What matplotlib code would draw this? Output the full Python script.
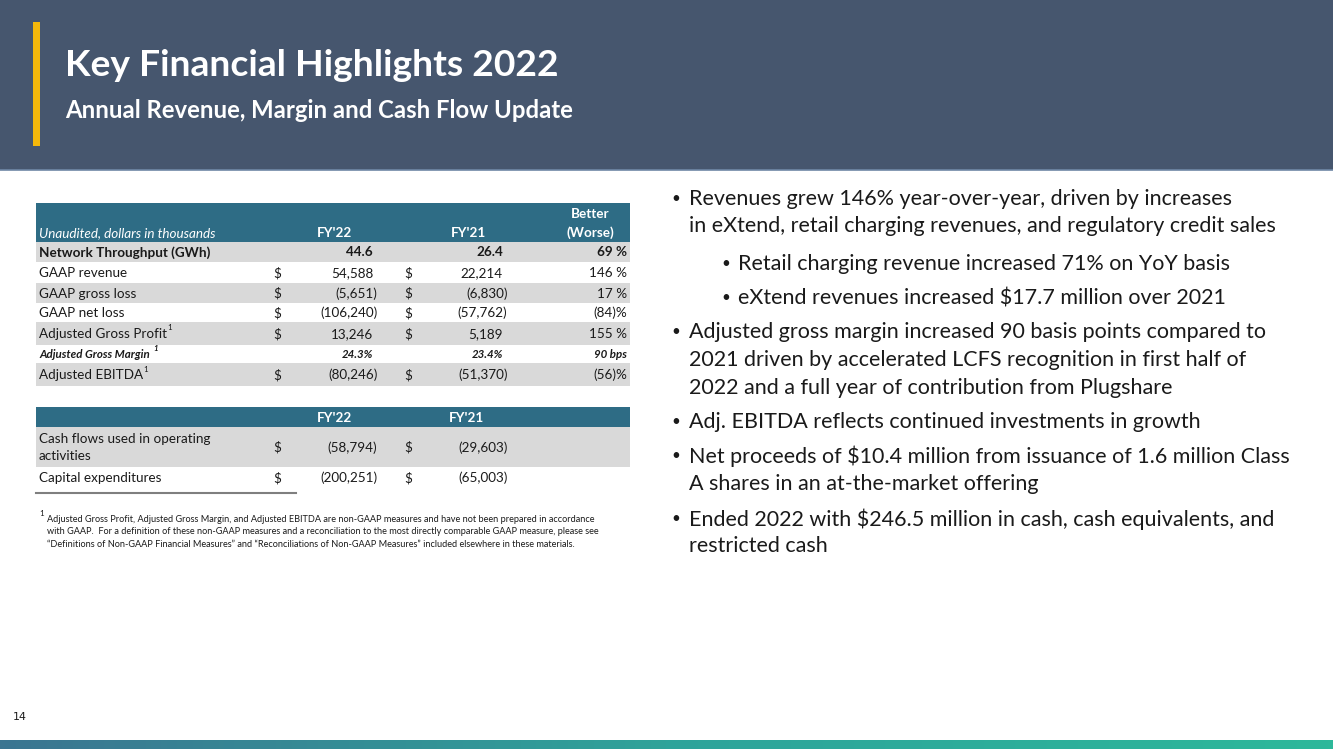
import matplotlib
matplotlib.use("Agg")
import matplotlib.pyplot as plt
import numpy as np
from matplotlib.patches import Rectangle
from matplotlib.colors import LinearSegmentedColormap

# ---------------- data ----------------
title = "Key Financial Highlights 2022"
subtitle = "Annual Revenue, Margin and Cash Flow Update"

table1_header = ["Unaudited, dollars in thousands", "FY'22", "FY'21", "Better\n(Worse)"]
row_labels = ["Network Throughput (GWh)", "GAAP revenue", "GAAP gross loss", "GAAP net loss",
              "Adjusted Gross Profit", "Adjusted Gross Margin", "Adjusted EBITDA"]
row_kind = ["gwh", "usd", "usd", "usd", "usd", "pct", "usd"]
row_note = [False, False, False, False, True, True, True]
fy22_values = [44.6, 54588, -5651, -106240, 13246, 24.3, -80246]
fy21_values = [26.4, 22214, -6830, -57762, 5189, 23.4, -51370]
change_labels = ["69 %", "146 %", "17 %", "(84)%", "155 %", "90 bps", "(56)%"]

table2_header = ["FY'22", "FY'21"]
cash_labels = ["Cash flows used in operating\nactivities", "Capital expenditures"]
cash_fy22 = [-58794, -200251]
cash_fy21 = [-29603, -65003]

footnote = ("Adjusted Gross Profit, Adjusted Gross Margin, and Adjusted EBITDA are non-GAAP measures and have not been prepared in accordance\n"
            "with GAAP.  For a definition of these non-GAAP measures and a reconciliation to the most directly comparable GAAP measure, please see\n"
            "\u201cDefinitions of Non-GAAP Financial Measures\u201d and \u201cReconciliations of Non-GAAP Measures\u201d included elsewhere in these materials.")

bullets = [
    (0, "Revenues grew 146% year-over-year, driven by increases\nin eXtend, retail charging revenues, and regulatory credit sales"),
    (1, "Retail charging revenue increased 71% on YoY basis"),
    (1, "eXtend revenues increased $17.7 million over 2021"),
    (0, "Adjusted gross margin increased 90 basis points compared to\n2021 driven by accelerated LCFS recognition in first half of\n2022 and a full year of contribution from Plugshare"),
    (0, "Adj. EBITDA reflects continued investments in growth"),
    (0, "Net proceeds of $10.4 million from issuance of 1.6 million Class\nA shares in an at-the-market offering"),
    (0, "Ended 2022 with $246.5 million in cash, cash equivalents, and\nrestricted cash"),
]
page_number = "14"

# ---------------- style ----------------
W, H = 1333, 749
FONT = ["Lato", "DejaVu Sans"]
TFONT = ["Lato", "DejaVu Sans"]
plt.rcParams["font.family"] = FONT
HEADER_BG = "#46566e"
TEAL = "#2e6c85"
GRAY = "#d9d9d9"
TEXT = "#1a1a1a"

fig = plt.figure(figsize=(W / 100, H / 100), dpi=100)
ax = fig.add_axes([0, 0, 1, 1])
ax.set_xlim(0, W)
ax.set_ylim(H, 0)
ax.axis("off")

def pt(px):
    return px * 0.72

# header band
ax.add_patch(Rectangle((0, 0), W, 170, color=HEADER_BG, lw=0))
ax.plot([0, W], [170, 170], color="#6f88a6", lw=1.2)
ax.add_patch(Rectangle((33, 22), 7, 124, color="#f5b80b", lw=0))
ax.text(65, 65, title, fontsize=pt(37.3), fontweight="bold", color="white", va="center", ha="left")
ax.text(65, 111, subtitle, fontsize=pt(23.9), fontweight="bold", color="white", va="center", ha="left")

# bottom gradient bar
grad = np.linspace(0, 1, 256)[None, :]
cmap = LinearSegmentedColormap.from_list("g", ["#3b7591", "#2fa39a", "#2db89a"])
ax.imshow(grad, extent=(0, W, 749, 740), aspect="auto", cmap=cmap, zorder=1)
ax.set_xlim(0, W)
ax.set_ylim(H, 0)
ax.text(13, 717, page_number, fontsize=pt(11), color=TEXT, va="center", ha="left", family=["Liberation Sans Narrow", "DejaVu Sans"])

# ---------------- table 1 ----------------
TX0, TX1 = 36, 630
LBL_X = 39
D1_X, V1_X, D2_X, V2_X, C_X = 277, 373, 408, 503, 627
PAREN = 4.5
FS = pt(13.5)

ax.add_patch(Rectangle((TX0, 203), TX1 - TX0, 39, color=TEAL, lw=0))
ax.text(LBL_X, 233, table1_header[0], fontsize=FS, style="italic", color="white", va="center", family=TFONT)
ax.text(334, 233, table1_header[1], fontsize=FS, fontweight="bold", color="white", va="center", ha="center", family=TFONT)
ax.text(469, 233, table1_header[2], fontsize=FS, fontweight="bold", color="white", va="center", ha="center", family=TFONT)
hb = table1_header[3].split("\n")
ax.text(590, 214, hb[0], fontsize=FS, fontweight="bold", color="white", va="center", ha="center", family=TFONT)
ax.text(590, 233, hb[1], fontsize=FS, fontweight="bold", color="white", va="center", ha="center", family=TFONT)

bounds = [242, 262, 283, 303, 322, 345, 363, 386]

def fmt(v, kind):
    if kind == "gwh":
        return f"{v:.1f}"
    if kind == "pct":
        return f"{v:.1f}%"
    s = f"{abs(v):,.0f}"
    return f"({s})" if v < 0 else s

fig.canvas.draw()
renderer = fig.canvas.get_renderer()
inv = ax.transData.inverted()

for i, lab in enumerate(row_labels):
    y0, y1 = bounds[i], bounds[i + 1]
    yc = (y0 + y1) / 2 + 0.5
    if i % 2 == 0:
        ax.add_patch(Rectangle((TX0, y0), TX1 - TX0, y1 - y0, color=GRAY, lw=0))
    kind = row_kind[i]
    bold = kind in ("gwh", "pct")
    small = kind == "pct"
    fs = pt(11.5) if small else FS
    wt = "bold" if bold else "normal"
    st = "italic" if small else "normal"
    t = ax.text(LBL_X, yc, lab, fontsize=fs, fontweight=wt, style=st, color=TEXT, va="center", family=TFONT)
    if row_note[i]:
        bb = t.get_window_extent(renderer=renderer)
        xend = inv.transform((bb.x1, bb.y0))[0] + (3 if small else 0.5)
        ax.text(xend, yc - 6, "1", fontsize=pt(8), fontweight=wt, style=st, color=TEXT, va="center", family=TFONT)
    if kind == "usd":
        ax.text(D1_X, yc, "$", fontsize=FS, color=TEXT, va="center", ha="center", family=TFONT)
        ax.text(D2_X, yc, "$", fontsize=FS, color=TEXT, va="center", ha="center", family=TFONT)
    for v, x in ((fy22_values[i], V1_X), (fy21_values[i], V2_X)):
        xx = x + (PAREN if (kind == "usd" and v < 0) else 0)
        ax.text(xx, yc, fmt(v, kind), fontsize=fs, fontweight=wt, style=st, color=TEXT, va="center", ha="right", family=TFONT)
    ax.text(C_X, yc, change_labels[i], fontsize=fs, fontweight=wt, style=st, color=TEXT, va="center", ha="right", family=TFONT)

# ---------------- table 2 ----------------
ax.add_patch(Rectangle((TX0, 407), TX1 - TX0, 20, color=TEAL, lw=0))
ax.text(334, 417.5, table2_header[0], fontsize=FS, fontweight="bold", color="white", va="center", ha="center", family=TFONT)
ax.text(466, 417.5, table2_header[1], fontsize=FS, fontweight="bold", color="white", va="center", ha="center", family=TFONT)
b2 = [427, 467, 488]
for i, lab in enumerate(cash_labels):
    y0, y1 = b2[i], b2[i + 1]
    yc = (y0 + y1) / 2 + 0.5
    if i % 2 == 0:
        ax.add_patch(Rectangle((TX0, y0), TX1 - TX0, y1 - y0, color=GRAY, lw=0))
    ax.text(LBL_X, yc, lab, fontsize=FS, color=TEXT, va="center", ha="left", family=TFONT, linespacing=1.45)
    ax.text(D1_X, yc, "$", fontsize=FS, color=TEXT, va="center", ha="center", family=TFONT)
    ax.text(D2_X, yc, "$", fontsize=FS, color=TEXT, va="center", ha="center", family=TFONT)
    ax.text(V1_X + PAREN, yc, fmt(cash_fy22[i], "usd"), fontsize=FS, color=TEXT, va="center", ha="right", family=TFONT)
    ax.text(V2_X + PAREN, yc, fmt(cash_fy21[i], "usd"), fontsize=FS, color=TEXT, va="center", ha="right", family=TFONT)
ax.plot([36, 296], [493, 493], color="#7f7f7f", lw=1.5)

# footnote
ax.text(39, 514, "1", fontsize=pt(8), color=TEXT, va="center", family=TFONT)
ax.text(47, 532, footnote, fontsize=pt(9.15), color=TEXT, va="center", ha="left", family=TFONT, linespacing=1.45)

# ---------------- bullets ----------------
BFS = pt(21.5)
LINE = 27.5
y = 199
gaps = [37, 35, 34, 35, 34, 35]
for k, (lvl, txt) in enumerate(bullets):
    bx = 671 if lvl == 0 else 721
    tx = 689 if lvl == 0 else 738
    lines = txt.split("\n")
    ax.text(bx, y, "\u2022", fontsize=pt(15), color=TEXT, va="center", ha="left")
    for j, ln in enumerate(lines):
        ax.text(tx, y + j * LINE, ln, fontsize=BFS, color=TEXT, va="center", ha="left")
    if k < len(gaps):
        y += (len(lines) - 1) * LINE + gaps[k]

fig.savefig("out.png", dpi=100)
